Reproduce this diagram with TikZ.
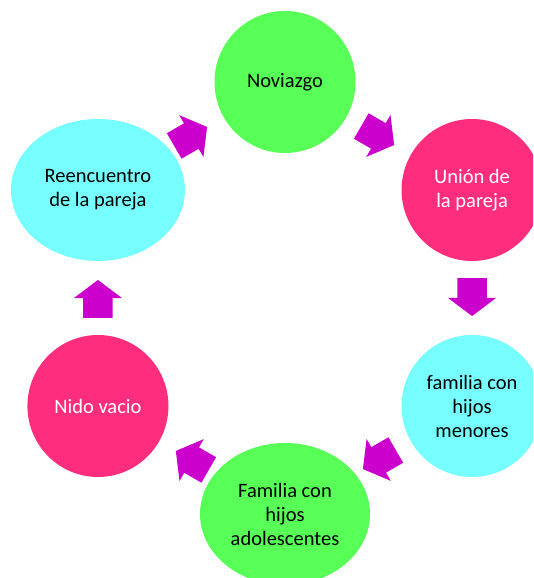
\documentclass[tikz,border=0pt]{standalone}
\usepackage{fontspec}
\setmainfont{Carlito}
\usetikzlibrary{shapes.geometric,shapes.arrows}
\definecolor{verde}{RGB}{87,255,87}
\definecolor{rosa}{RGB}{255,45,126}
\definecolor{celeste}{RGB}{119,255,255}
\definecolor{morado}{RGB}{204,0,204}

\begin{document}
\begin{tikzpicture}[x=1pt,y=1pt,
    etapa/.style={ellipse,inner sep=0pt,minimum width=141,minimum height=142,
      align=center,font=\fontsize{20.5}{24}\selectfont},
    flecha/.style={single arrow,fill=morado,inner xsep=0pt,inner ysep=14.5pt,
      minimum height=38,minimum width=48,single arrow head extend=9.5,
      single arrow tip angle=106,sloped,allow upside down}]
  \clip (0,0) rectangle (533,578);
  \coordinate (o) at (285,280);
  \node[etapa,fill=verde] (nov) at ([shift={(90:216)}]o) {Noviazgo};
  \node[etapa,fill=rosa,text=white] (uni) at ([shift={(30:216)}]o) {Unión de\\la pareja};
  \node[etapa,fill=celeste] (men) at ([shift={(-30:216)}]o) {familia con\\hijos\\menores};
  \node[etapa,fill=verde,minimum width=170] (ado) at ([shift={(-90:216)}]o) {Familia con\\hijos\\adolescentes};
  \node[etapa,fill=rosa,text=white] (nid) at ([shift={(210:216)}]o) {Nido vacio};
  \node[etapa,fill=celeste,minimum width=174] (ree) at ([shift={(150:216)}]o) {Reencuentro\\de la pareja};
  \foreach \a/\b in {ree/nov,nov/uni,uni/men,men/ado,ado/nid,nid/ree}
    \path (\a.center) -- node[flecha,pos=.47] {} (\b.center);
\end{tikzpicture}
\end{document}
